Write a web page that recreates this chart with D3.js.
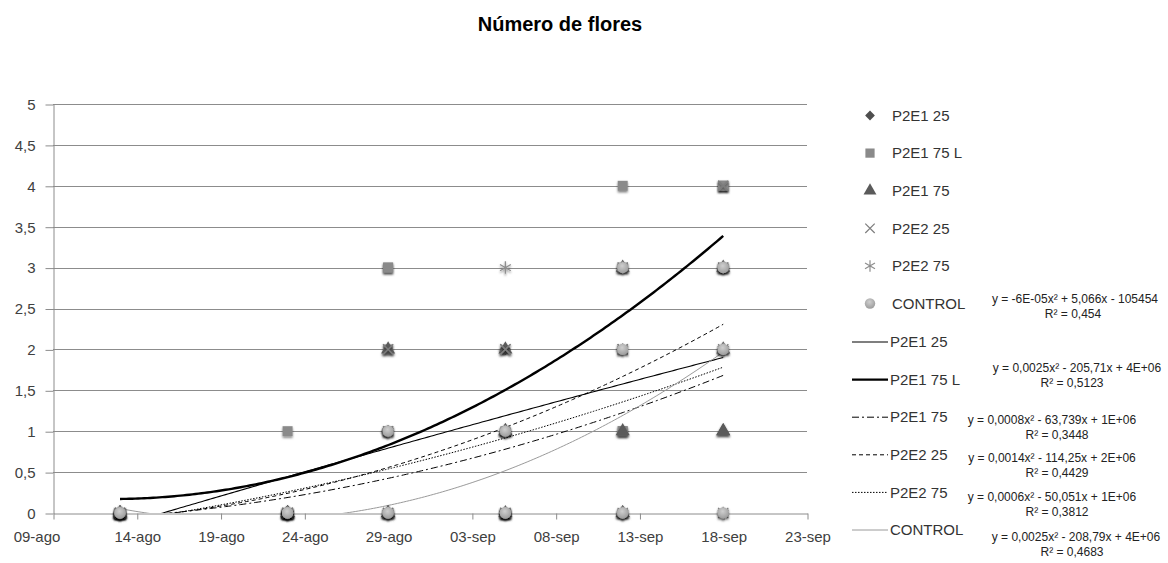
<!DOCTYPE html>
<html><head><meta charset="utf-8">
<script src="https://cdn.jsdelivr.net/npm/d3@7"></script>
<style>
body{margin:0;background:#fff}
text{font-family:"Liberation Sans",Arial,sans-serif}
</style>
</head><body>
<svg id="c" width="1168" height="563"></svg>
<script>
// ---------- data ----------
const sampleDates = ["2012-08-13","2012-08-23","2012-08-29","2012-09-05","2012-09-12","2012-09-18"];
const seriesNames = ["P2E1 25","P2E1 75 L","P2E1 75","P2E2 25","P2E2 75","CONTROL"];
// values per sample date (one value per plant)
const p2e1_25  = [[0,0,0,0],[0,0,0,0],[1,1,1,1],[2,2,1,0],[3,2,2,0],[3,2,2,0]];
const p2e1_75L = [[0,0,0,0],[1,0,0,0],[3,3,2,1],[1,0,0,0],[4,3,1,1],[4,4,4,3]];
const p2e1_75  = [[0,0,0,0],[0,0,0,0],[2,0,0,0],[2,1,1,0],[3,1,0,0],[3,2,1,1]];
const p2e2_25  = [[0,0,0,0],[0,0,0,0],[2,1,0,0],[2,2,0,0],[3,2,2,0],[4,3,2,0]];
const p2e2_75  = [[0,0,0,0],[0,0,0,0],[1,1,0,0],[3,1,1,0],[3,2,0,0],[3,2,2,0]];
const control  = [[0,0,0,0],[0,0,0,0],[1,0,0,0],[1,0,0,0],[3,2,0,0],[3,3,2,0]];
const yTicks = [0,0.5,1,1.5,2,2.5,3,3.5,4,4.5,5];
const yTickLabels = ["0","0,5","1","1,5","2","2,5","3","3,5","4","4,5","5"];
const xTickLabels = ["09-ago","14-ago","19-ago","24-ago","29-ago","03-sep","08-sep","13-sep","18-sep","23-sep"];
const equations = ["y = -6E-05x² + 5,066x - 105454","y = 0,0025x² - 205,71x + 4E+06","y = 0,0008x² - 63,739x + 1E+06","y = 0,0014x² - 114,25x + 2E+06","y = 0,0006x² - 50,051x + 1E+06","y = 0,0025x² - 208,79x + 4E+06"];
const r2Labels = ["R² = 0,454","R² = 0,5123","R² = 0,3448","R² = 0,4429","R² = 0,3812","R² = 0,4683"];
const titleText = "Número de flores";

// ---------- styles ----------
const allSeries = [p2e1_25,p2e1_75L,p2e1_75,p2e2_25,p2e2_75,control];
const markerStyle = [
  {type:d3.symbolSquare,  size:56, rot:45, fill:"#4e4e4e", stroke:null},
  {type:d3.symbolSquare,  size:100, rot:0, fill:"#8a8a8a", stroke:null},
  {type:d3.symbolTriangle,size:85, rot:0, fill:"#5a5a5a", stroke:null},
  {type:d3.symbolTimes,   size:70, rot:0, fill:"none", stroke:"#7d7d7d"},
  {type:d3.symbolAsterisk,size:110, rot:0, fill:"none", stroke:"#8e8e8e"},
  {type:d3.symbolCircle,  size:100, rot:0, fill:"url(#cg)", stroke:null}
];
const lineStyle = [
  {w:1.1, dash:null, color:"#000"},
  {w:2.4, dash:null, color:"#000"},
  {w:1, dash:"7,3,2,3", color:"#000"},
  {w:1, dash:"4,3", color:"#000"},
  {w:1, dash:"1.5,1.5", color:"#000"},
  {w:1, dash:null, color:"#9a9a9a"}
];

const plot = {left:53, right:807, top:104, bottom:513};
const svg = d3.select("#c");
const defs = svg.append("defs");
const f = defs.append("filter").attr("id","sh").attr("x","-60%").attr("y","-60%").attr("width","220%").attr("height","220%");
f.append("feDropShadow").attr("dx",0).attr("dy",1.6).attr("stdDeviation",1.1).attr("flood-color","#000").attr("flood-opacity",0.5);
const cg = defs.append("radialGradient").attr("id","cg").attr("cx","45%").attr("cy","35%").attr("r","65%");
cg.append("stop").attr("offset","0%").attr("stop-color","#cfcfcf");
cg.append("stop").attr("offset","100%").attr("stop-color","#9c9c9c");
defs.append("clipPath").attr("id","clip").append("rect")
  .attr("x",plot.left).attr("y",plot.top).attr("width",plot.right-plot.left).attr("height",plot.bottom-plot.top);

const parse = d3.utcParse("%Y-%m-%d");
const dates = sampleDates.map(parse);
const xStart = parse("2012-08-09"), xEnd = parse("2012-09-23");
const x = d3.scaleUtc().domain([xStart,xEnd]).range([plot.left,plot.right]);
const y = d3.scaleLinear().domain([0,5]).range([plot.bottom,plot.top]);

// title
svg.append("text").attr("x",560).attr("y",31).attr("text-anchor","middle")
  .attr("font-size",20).attr("font-weight","bold").attr("fill","#000").text(titleText);

// gridlines
svg.append("g").selectAll("line").data(yTicks.filter(d=>d>0)).join("line")
  .attr("x1",plot.left).attr("x2",plot.right)
  .attr("y1",d=>Math.round(y(d))+0.5).attr("y2",d=>Math.round(y(d))+0.5)
  .attr("stroke","#8c8c8c").attr("stroke-width",1);

// axes
const yAxis = d3.axisLeft(y).tickValues(yTicks).tickFormat((d,i)=>yTickLabels[i]).tickSize(8).tickPadding(10).tickSizeOuter(0);
const gy = svg.append("g").attr("transform",`translate(${plot.left+0.5},0.5)`).call(yAxis);
gy.selectAll("text").attr("font-size",15).attr("fill","#404040").attr("font-family","Liberation Sans, Arial, sans-serif");
gy.selectAll("line,path").attr("stroke","#8c8c8c");

const xTickDates = xTickLabels.map((_,i)=>d3.utcDay.offset(xStart,5*i));
const xAxis = d3.axisBottom(x).tickValues(xTickDates).tickFormat((d,i)=>xTickLabels[i]).tickSize(6).tickPadding(12).tickSizeOuter(0);
const gx = svg.append("g").attr("transform",`translate(0.5,${plot.bottom+0.5})`).call(xAxis);
gx.selectAll("text").attr("font-size",15).attr("fill","#404040").attr("font-family","Liberation Sans, Arial, sans-serif");
gx.selectAll("line,path").attr("stroke","#8c8c8c");
gx.selectAll(".tick text").filter((d,i)=>i===0).attr("dx",-17);

// ---------- points & quadratic trendlines ----------
function toPoints(series){
  const pts=[];
  series.forEach((vals,i)=>vals.forEach(v=>pts.push({date:dates[i], v})));
  return pts;
}
function quadFit(pts){
  const t0 = dates[0].getTime();
  const P = pts.map(p=>[(p.date.getTime()-t0)/864e5, p.v]);
  const S=[0,0,0,0,0], T=[0,0,0];
  P.forEach(([t,v])=>{ for(let k=0;k<5;k++) S[k]+=Math.pow(t,k); for(let k=0;k<3;k++) T[k]+=v*Math.pow(t,k); });
  const A=[[S[0],S[1],S[2],T[0]],[S[1],S[2],S[3],T[1]],[S[2],S[3],S[4],T[2]]];
  for(let i=0;i<3;i++){ for(let j=i+1;j<3;j++){ const r=A[j][i]/A[i][i]; for(let k=i;k<4;k++) A[j][k]-=r*A[i][k]; } }
  const c=[0,0,0];
  for(let i=2;i>=0;i--){ let s=A[i][3]; for(let k=i+1;k<3;k++) s-=A[i][k]*c[k]; c[i]=s/A[i][i]; }
  const tmin=d3.min(P,p=>p[0]), tmax=d3.max(P,p=>p[0]);
  return d3.range(0,201).map(k=>{ const t=tmin+(tmax-tmin)*k/200; return {date:new Date(t0+t*864e5), v:c[0]+c[1]*t+c[2]*t*t}; });
}

const trendG = svg.append("g").attr("clip-path","url(#clip)");
const markG = svg.append("g");
const line = d3.line().x(d=>x(d.date)).y(d=>y(d.v)).curve(d3.curveLinear);

allSeries.forEach((s,si)=>{
  const pts = toPoints(s);
  const ms = markerStyle[si];
  const sym = d3.symbol().type(ms.type).size(ms.size);
  markG.append("g").selectAll("path").data(pts).join("path")
    .attr("transform",d=>`translate(${x(d.date)},${y(d.v)}) rotate(${ms.rot})`)
    .attr("d",sym)
    .attr("fill",ms.fill).attr("stroke",ms.stroke||"none").attr("stroke-width",ms.stroke?1.3:0)
    .attr("filter","url(#sh)");
});
allSeries.forEach((s,si)=>{
  const ls = lineStyle[si];
  trendG.append("path").datum(quadFit(toPoints(s))).attr("d",line)
    .attr("fill","none").attr("stroke",ls.color).attr("stroke-width",ls.w)
    .attr("stroke-dasharray",ls.dash);
});

// ---------- legend ----------
const leg = svg.append("g");
seriesNames.forEach((name,i)=>{
  const yy = 115.5 + 37.6*i;
  const ms = markerStyle[i];
  leg.append("path").attr("transform",`translate(870,${yy}) rotate(${ms.rot})`)
    .attr("d",d3.symbol().type(ms.type).size(ms.size*0.85))
    .attr("fill",ms.fill).attr("stroke",ms.stroke||"none").attr("stroke-width",ms.stroke?1.2:0);
  leg.append("text").attr("x",892).attr("y",yy).attr("dy","0.35em").attr("font-size",15).attr("fill","#333").text(name);
});
seriesNames.forEach((name,i)=>{
  const yy = 342 + 37.6*i;
  const ls = lineStyle[i];
  leg.append("line").attr("x1",852).attr("x2",888).attr("y1",yy).attr("y2",yy)
    .attr("stroke",ls.color).attr("stroke-width",ls.w).attr("stroke-dasharray",ls.dash);
  leg.append("text").attr("x",890).attr("y",yy).attr("dy","0.35em").attr("font-size",15).attr("fill","#333").text(name);
});

// equations
const eqX = [1075,1077,1052,1052,1052,1076];
const eqY = [299,368,420,458,497,537];
const rX = [1073,1072,1057,1057,1057,1072];
equations.forEach((eq,i)=>{
  svg.append("text").attr("x",eqX[i]).attr("y",eqY[i]).attr("dy","0.35em").attr("text-anchor","middle")
    .attr("font-size",12).attr("fill","#222").text(eq);
  svg.append("text").attr("x",rX[i]).attr("y",eqY[i]+15).attr("dy","0.35em").attr("text-anchor","middle")
    .attr("font-size",12).attr("fill","#222").text(r2Labels[i]);
});
</script>
</body></html>
